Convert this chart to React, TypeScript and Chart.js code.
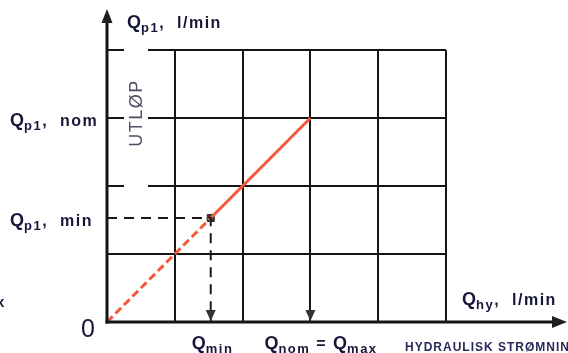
import React, { useEffect, useRef } from "react";
import { Chart, registerables } from "chart.js";

Chart.register(...registerables);

// ---- data ----
const hydraulicFlow = [0, 1.53, 3]; // x: Q_hy
const outletFlow = [0, 1.53, 3]; // y: Q_p1
const qMin = 1.53;
const qNom = 3;
const xMax = 5;
const yMax = 4;
const yTickValues = [qMin, qNom];
const yTickLabels: [string, string][][] = [
  [["Q", "M"], ["p1", "s"], [",  min", "t"]],
  [["Q", "M"], ["p1", "s"], [",  nom", "t"]],
];
const xTickValues = [qMin, qNom];
const xTickLabels: [string, string][][] = [
  [["Q", "M"], ["min", "s"]],
  [["Q", "M"], ["nom", "s"], [" = ", "t"], ["Q", "M"], ["max", "s"]],
];
const yAxisTitle: [string, string][] = [["Q", "M"], ["p1", "s"], [",  l/min", "t"]];
const xAxisTitle: [string, string][] = [["Q", "M"], ["hy", "s"], [",  l/min", "t"]];
const sideLabel = "UTLØP";
const footLabel = "HYDRAULISK STRØMNING";

const FAM = "'Liberation Sans', Arial, sans-serif";
const TEXT = "#16163a";
const fonts: Record<string, string> = {
  M: `bold 18px ${FAM}`,
  s: `bold 13px ${FAM}`,
  t: `bold 16px ${FAM}`,
};
const spacing: Record<string, number> = { M: 0, s: 1.5, t: 1.5 };

function drawRich(ctx: any, parts: [string, string][], x: number, y: number, extra = 0) {
  let cx = x;
  ctx.textBaseline = "alphabetic";
  ctx.textAlign = "left";
  for (const [txt, st] of parts) {
    ctx.font = fonts[st];
    const ls = spacing[st] + (st === "M" ? 0 : extra);
    ctx.letterSpacing = `${ls}px`;
    const dy = st === "s" ? 4 : 0;
    ctx.fillText(txt, cx, y + dy);
    cx += ctx.measureText(txt).width;
  }
  ctx.letterSpacing = "0px";
}

function arrow(ctx: CanvasRenderingContext2D, tipX: number, tipY: number, dir: "up" | "down" | "right", len: number, half: number) {
  ctx.beginPath();
  if (dir === "up") {
    ctx.moveTo(tipX, tipY);
    ctx.lineTo(tipX - half, tipY + len);
    ctx.lineTo(tipX + half, tipY + len);
  } else if (dir === "down") {
    ctx.moveTo(tipX, tipY);
    ctx.lineTo(tipX - half, tipY - len);
    ctx.lineTo(tipX + half, tipY - len);
  } else {
    ctx.moveTo(tipX, tipY);
    ctx.lineTo(tipX - len, tipY - half);
    ctx.lineTo(tipX - len, tipY + half);
  }
  ctx.closePath();
  ctx.fill();
}

const decor = {
  id: "decor",
  beforeDatasetsDraw(chart: any) {
    const { ctx, chartArea, scales } = chart;
    const xs = scales.x;
    const ys = scales.y;
    const x0 = xs.getPixelForValue(0);
    ctx.save();
    ctx.fillStyle = "#ffffff";
    ctx.fillRect(x0 + 17, chartArea.top - 4, 24, ys.getPixelForValue(2) - chartArea.top + 8);
    ctx.restore();
  },
  afterDraw(chart: any) {
    const { ctx, chartArea, scales, width } = chart;
    const xs = scales.x;
    const ys = scales.y;
    const x0 = xs.getPixelForValue(0);
    const y0 = ys.getPixelForValue(0);
    ctx.save();
    ctx.strokeStyle = "#151515";
    ctx.fillStyle = "#202020";
    ctx.lineWidth = 3;
    // y axis
    ctx.beginPath();
    ctx.moveTo(x0, y0 + 1.5);
    ctx.lineTo(x0, chartArea.top - 30);
    ctx.stroke();
    arrow(ctx, x0, chartArea.top - 41, "up", 14, 5.5);
    // x axis
    ctx.beginPath();
    ctx.moveTo(x0 - 1.5, y0);
    ctx.lineTo(width - 12, y0);
    ctx.stroke();
    arrow(ctx, width - 1, y0, "right", 15, 6);
    // down arrows at x ticks
    ctx.fillStyle = "#333";
    for (const v of xTickValues) arrow(ctx, xs.getPixelForValue(v), y0 - 1, "down", 11, 5);

    // labels
    ctx.fillStyle = TEXT;
    yTickValues.forEach((v, i) => drawRich(ctx, yTickLabels[i], x0 - 97, ys.getPixelForValue(v) + 8));
    xTickValues.forEach((v, i) => drawRich(ctx, xTickLabels[i], xs.getPixelForValue(v) - (i === 0 ? 19 : 46), y0 + 27));
    drawRich(ctx, yAxisTitle, x0 + 20, chartArea.top - 22);
    drawRich(ctx, xAxisTitle, chartArea.right + 16, y0 - 17);
    ctx.font = `25px ${FAM}`;
    ctx.fillText("0", x0 - 26, y0 + 15);
    ctx.font = `bold 15px ${FAM}`;
    ctx.fillText("x", -4, y0 - 15);
    ctx.font = `bold 12px ${FAM}`;
    ctx.letterSpacing = "1px";
    ctx.fillStyle = "#2a2a5a";
    ctx.fillText(footLabel, chartArea.right - 41, y0 + 29);
    ctx.letterSpacing = "0px";
    // rotated side label
    ctx.save();
    ctx.translate(x0 + 35, (chartArea.top + ys.getPixelForValue(2)) / 2 - 5);
    ctx.rotate(-Math.PI / 2);
    ctx.font = `18px ${FAM}`;
    (ctx as any).letterSpacing = "1.5px";
    ctx.fillStyle = "#4e4e64";
    ctx.textAlign = "center";
    ctx.textBaseline = "alphabetic";
    ctx.fillText(sideLabel, 0, 0);
    ctx.restore();
    ctx.restore();
  },
};

export default function App() {
  const ref = useRef<HTMLCanvasElement>(null);
  useEffect(() => {
    document.body.style.margin = "0";
    const pts = hydraulicFlow.map((x, i) => ({ x, y: outletFlow[i] }));
    const chart = new Chart(ref.current!, {
      type: "scatter",
      data: {
        datasets: [
          {
            data: [
              { x: 0, y: qMin },
              { x: qMin, y: qMin },
              { x: qMin, y: 0 },
            ],
            showLine: true,
            borderColor: "#1a1a1a",
            borderWidth: 2,
            borderDash: [10, 7],
            pointRadius: 0,
            clip: false,
          } as any,
          {
            data: pts,
            showLine: true,
            borderColor: "#f4583a",
            borderWidth: 3,
            pointRadius: 0,
            clip: false,
            segment: {
              borderDash: (c: any) => (c.p0DataIndex === 0 ? [8, 4] : undefined),
            },
          } as any,
          {
            data: [{ x: qMin, y: qMin }],
            pointStyle: "rect",
            pointRadius: 5,
            backgroundColor: "#303030",
            borderColor: "#303030",
            clip: false,
          } as any,
        ],
      },
      options: {
        responsive: false,
        animation: false,
        layout: { padding: { left: 107, top: 50, right: 122, bottom: 31 } },
        plugins: { legend: { display: false }, tooltip: { enabled: false } },
        scales: {
          x: {
            type: "linear",
            min: 0,
            max: xMax,
            ticks: { display: false, stepSize: 1 },
            grid: { color: "#151515", lineWidth: 2, drawTicks: false },
            border: { display: false },
            afterFit: (s: any) => {
              s.height = 0;
            },
          },
          y: {
            type: "linear",
            min: 0,
            max: yMax,
            ticks: { display: false, stepSize: 1 },
            grid: { color: "#151515", lineWidth: 2, drawTicks: false },
            border: { display: false },
            afterFit: (s: any) => {
              s.width = 0;
            },
          },
        },
      },
      plugins: [decor],
    });
    return () => chart.destroy();
  }, []);
  return (
    <div style={{ width: 568, height: 353, background: "#fff" }}>
      <canvas ref={ref} width={568} height={353} style={{ display: "block" }} />
    </div>
  );
}
